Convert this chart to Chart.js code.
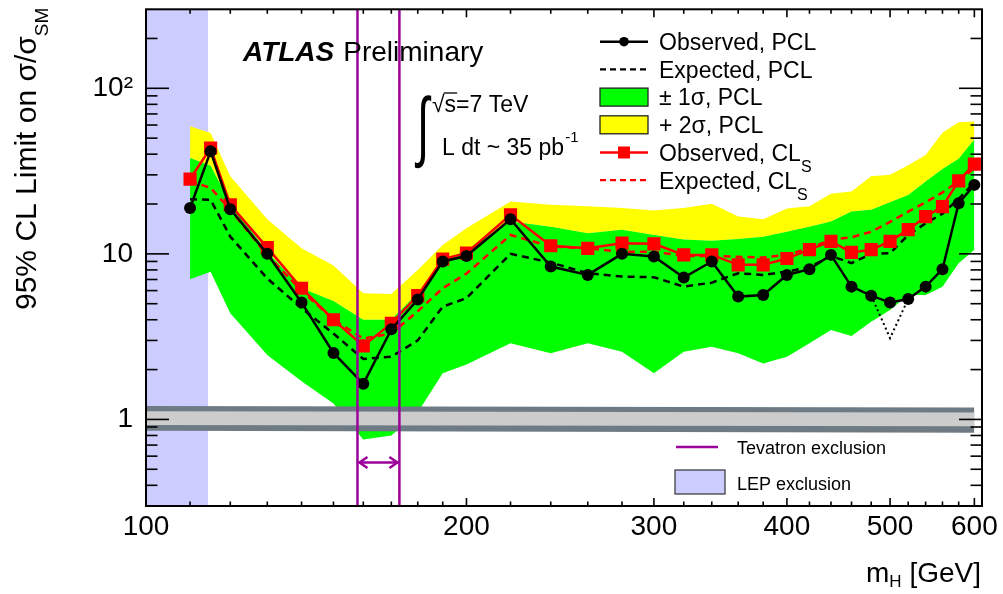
<!DOCTYPE html>
<html><head><meta charset="utf-8">
<script src="https://cdn.jsdelivr.net/npm/chart.js@4.4.0/dist/chart.umd.min.js"></script>
<style>html,body{margin:0;padding:0;background:#fff;}#wrap{width:1003px;height:594px;}</style>
</head><body><div id="wrap"><canvas id="c" width="1003" height="594"></canvas></div>
<script>
// ---------------- data ----------------
const masses = [110,115,120,130,140,150,160,170,180,190,200,220,240,260,280,300,320,340,360,380,400,420,440,460,480,500,520,540,560,580,600];
const obsPCL = [18.9,41.6,18.6,10.0,5.08,2.52,1.64,3.5,5.3,9.0,9.7,16.2,8.38,7.46,10.0,9.63,7.19,8.99,5.52,5.65,7.46,8.08,9.86,6.34,5.59,5.08,5.34,6.34,8.08,20.2,26.1];
const expPCL = [21.4,21.2,12.7,7.1,4.7,3.3,2.32,2.39,3.0,4.8,5.4,10.0,8.86,7.64,7.29,7.23,6.34,6.70,7.64,7.46,7.81,8.30,9.72,8.79,10.0,10.1,13.0,15.3,17.5,21.5,27.0];
const obsCLs = [28.3,43.6,19.8,10.9,6.2,4.0,2.78,3.8,5.6,9.3,10.1,17.2,11.2,10.8,11.6,11.5,9.86,9.86,8.58,8.58,9.37,10.6,11.9,10.2,10.6,11.9,14.0,16.8,19.3,27.6,34.8];
const expCLs = [27.5,25.0,18.5,9.8,6.0,4.0,3.08,3.3,4.5,6.2,7.6,13.0,11.1,10.8,10.3,10.3,9.72,9.72,9.6,9.5,9.86,10.8,12.2,12.6,13.6,15.6,18.0,20.5,23.5,27.4,33.0];
const plus1 = [37.9,34.0,20.3,10.3,6.2,5.2,4.0,4.0,5.8,9.0,10.6,15.7,14.6,13.3,14.0,13.0,12.2,12.0,12.3,12.7,13.6,14.6,15.7,18.0,18.5,20.5,22.7,27.4,32.5,37.5,49.0];
const minus1 = [7.03,7.81,4.38,2.45,1.7,1.25,0.757,0.80,1.1,1.9,2.15,2.88,2.51,2.88,2.56,1.90,2.56,2.75,2.51,2.18,2.39,2.88,3.47,3.19,3.89,4.58,5.65,5.65,6.34,8.79,10.6];
const plus2 = [59.0,53.7,29.4,16.2,10.8,8.5,5.78,5.73,8.0,11.3,14.3,20.7,19.8,19.4,18.9,18.3,18.9,20.1,16.8,16.2,18.8,19.4,23.1,23.8,29.4,30.1,34.3,39.5,53.8,62.3,63.1];
const dotMass = [480,500,520];
const dotVals = [5.59,3.1,5.34];
const thMass = [100,600];
const thOuterHi = [1.205,1.18];
const thOuterLo = [0.853,0.83];
const thInnerHi = [1.12,1.10];
const thInnerLo = [0.924,0.91];
const lepRange = [100,114.4];
const tevRange = [158,173];
const tevArrowY = 0.55;
const xRange = [100,610];
const yRange = [0.3,300];
const xMajorTicks = [100,200,300,400,500,600];
const xMinorTicks = [110,120,130,140,150,160,170,180,190,220,240,260,280,320,340,360,380,420,440,460,480,520,540,560,580];
const yMajorTicks = [1,10,100];
const yMinorTicks = [0.4,0.5,0.6,0.7,0.8,0.9,2,3,4,5,6,7,8,9,20,30,40,50,60,70,80,90,200];
const yTickText = {1:'1',10:'10',100:'10\u00B2'};
const legendLabels = ['Observed, PCL','Expected, PCL','\u00B1 1\u03C3, PCL','+ 2\u03C3, PCL','Observed, CL','Expected, CL'];

// ---------------- style ----------------
const FONT = "'Liberation Sans', Arial, Helvetica, sans-serif";
const GREEN = '#00ff00', YELLOW = '#ffff00', RED = '#ff0000', PURPLE = '#9b009b';
const LEP = '#ccccff', DGRAY = '#6e7b84', LGRAY = '#cccccc';
const NONE = 'rgba(0,0,0,0)';
const xy = (xs, ys) => xs.map((x, i) => ({x: x, y: ys[i]}));
const band = (data, fill, color, order) => ({data, fill, backgroundColor: color, borderColor: NONE, borderWidth: 0, pointRadius: 0, order});

const datasets = [
  band(xy(lepRange, [yRange[1], yRange[1]]), 'start', LEP, 30),       // 0
  band(xy(masses, plus2), 2, YELLOW, 29),                              // 1
  band(xy(masses, plus1), 3, GREEN, 28),                               // 2
  band(xy(masses, minus1), false, NONE, 27),                           // 3
  band(xy(thMass, thOuterHi), 5, DGRAY, 26),                           // 4
  band(xy(thMass, thOuterLo), false, NONE, 25),                        // 5
  band(xy(thMass, thInnerHi), 7, LGRAY, 24),                           // 6
  band(xy(thMass, thInnerLo), false, NONE, 23),                        // 7
  {data: xy(masses, expPCL), borderColor: '#000', borderWidth: 2.5, borderDash: [7,5], pointRadius: 0, fill: false, order: 12},
  {data: xy(masses, expCLs), borderColor: RED, borderWidth: 2.5, borderDash: [7,5], pointRadius: 0, fill: false, order: 11},
  {data: xy(dotMass, dotVals), borderColor: '#000', borderWidth: 2, borderDash: [2,3], pointRadius: 0, fill: false, order: 10},
  {data: xy(masses, obsCLs), borderColor: RED, borderWidth: 2.5, pointStyle: 'rect', pointRadius: 9.3, pointBackgroundColor: RED, pointBorderColor: RED, pointBorderWidth: 0, fill: false, order: 9},
  {data: xy(masses, obsPCL), borderColor: '#000', borderWidth: 2.5, pointStyle: 'circle', pointRadius: 6, pointBackgroundColor: '#000', pointBorderColor: '#000', pointBorderWidth: 0, fill: false, order: 8},
  {data: xy([tevRange[0], tevRange[0]], yRange), borderColor: PURPLE, borderWidth: 2.5, pointRadius: 0, fill: false, order: 5},
  {data: xy([tevRange[1], tevRange[1]], yRange), borderColor: PURPLE, borderWidth: 2.5, pointRadius: 0, fill: false, order: 5}
];

function textSub(ctx, main, sub, x, y, size, subSize, shift) {
  ctx.font = size + 'px ' + FONT;
  ctx.fillText(main, x, y);
  const w = ctx.measureText(main).width;
  ctx.font = subSize + 'px ' + FONT;
  ctx.fillText(sub, x + w, y + shift);
  return w + ctx.measureText(sub).width;
}

const rootPlugin = {
  id: 'rootStyle',
  afterDatasetsDraw(chart) {
    const {ctx, scales: {x, y}} = chart;
    // Tevatron arrow
    const x1 = x.getPixelForValue(tevRange[0]), x2 = x.getPixelForValue(tevRange[1]);
    const py = y.getPixelForValue(tevArrowY);
    ctx.save();
    ctx.strokeStyle = PURPLE; ctx.lineWidth = 2.5; ctx.lineJoin = 'miter';
    ctx.beginPath(); ctx.moveTo(x1 + 1, py); ctx.lineTo(x2 - 1, py); ctx.stroke();
    ctx.beginPath(); ctx.moveTo(x1 + 10, py - 5.5); ctx.lineTo(x1 + 2, py); ctx.lineTo(x1 + 10, py + 5.5); ctx.stroke();
    ctx.beginPath(); ctx.moveTo(x2 - 10, py - 5.5); ctx.lineTo(x2 - 2, py); ctx.lineTo(x2 - 10, py + 5.5); ctx.stroke();
    ctx.restore();
  },
  afterDraw(chart) {
    const {ctx, chartArea: a, scales: {x, y}} = chart;
    ctx.save();
    // frame
    ctx.strokeStyle = '#000'; ctx.lineWidth = 2;
    ctx.strokeRect(a.left, a.top, a.right - a.left, a.bottom - a.top);
    ctx.lineWidth = 1.6;
    const seg = (x1, y1, x2, y2) => { ctx.beginPath(); ctx.moveTo(x1, y1); ctx.lineTo(x2, y2); ctx.stroke(); };
    const xt = (v, len) => { const p = x.getPixelForValue(v); seg(p, a.bottom, p, a.bottom - len); seg(p, a.top, p, a.top + len); };
    const yt = (v, len) => { const p = y.getPixelForValue(v); seg(a.left, p, a.left + len, p); seg(a.right, p, a.right - len, p); };
    xMajorTicks.forEach(v => xt(v, 8));
    xMinorTicks.forEach(v => xt(v, 4.5));
    yMajorTicks.forEach(v => yt(v, 23));
    yMinorTicks.forEach(v => yt(v, 11.5));

    ctx.fillStyle = '#000'; ctx.textBaseline = 'alphabetic'; ctx.textAlign = 'left';
    // ATLAS Preliminary
    ctx.font = 'italic bold 28px ' + FONT;
    ctx.fillText('ATLAS', 243, 61);
    const wA = ctx.measureText('ATLAS').width;
    ctx.font = '28px ' + FONT;
    ctx.fillText('Preliminary', 243 + wA + 9, 61);

    // sqrt(s) and luminosity
    ctx.font = '23px ' + FONT;
    ctx.fillText('\u221As=7 TeV', 432, 112);
    const wr = ctx.measureText('\u221A').width, ws = ctx.measureText('s').width;
    ctx.lineWidth = 1.3;
    seg(432 + wr - 1, 93, 432 + wr + ws + 1, 93);
    ctx.save();
    ctx.translate(417, 152);
    ctx.scale(1, 1.75);
    ctx.font = '44px ' + FONT;
    ctx.fillText('\u222B', 0, 0);
    ctx.restore();
    ctx.font = '23px ' + FONT;
    ctx.fillText('L dt ~ 35 pb', 442, 155);
    const wl = ctx.measureText('L dt ~ 35 pb').width;
    ctx.font = '15px ' + FONT;
    ctx.fillText('-1', 442 + wl + 1, 142);

    // legend (top right)
    const lx0 = 600, lx1 = 648, tx = 659;
    legendLabels.forEach((lab, i) => {
      const ry = 41.7 + 27.7 * i;
      ctx.save();
      if (i === 0 || i === 4) {
        const c = i === 0 ? '#000' : RED;
        ctx.strokeStyle = c; ctx.fillStyle = c; ctx.lineWidth = 2.5;
        seg(lx0, ry, lx1, ry);
        if (i === 0) { ctx.beginPath(); ctx.arc(624, ry, 4.8, 0, Math.PI * 2); ctx.fill(); }
        else ctx.fillRect(618, ry - 6, 12, 12);
      } else if (i === 1 || i === 5) {
        ctx.strokeStyle = i === 1 ? '#000' : RED; ctx.lineWidth = 2.2; ctx.setLineDash([6,4]);
        seg(lx0, ry, lx1, ry);
      } else {
        ctx.fillStyle = i === 2 ? GREEN : YELLOW;
        ctx.fillRect(lx0, ry - 9, lx1 - lx0, 18);
        ctx.strokeStyle = '#222'; ctx.lineWidth = 1.3;
        ctx.strokeRect(lx0, ry - 9, lx1 - lx0, 18);
      }
      ctx.restore();
      ctx.fillStyle = '#000';
      if (i >= 4) textSub(ctx, lab, 'S', tx, ry + 8.3, 23, 16, 11);
      else { ctx.font = '23px ' + FONT; ctx.fillText(lab, tx, ry + 8.3); }
    });

    // lower legend
    ctx.strokeStyle = PURPLE; ctx.lineWidth = 2.5;
    seg(676, 447, 718, 447);
    ctx.fillStyle = LEP; ctx.fillRect(675, 470, 50, 24);
    ctx.strokeStyle = '#333'; ctx.lineWidth = 1.2; ctx.strokeRect(675, 470, 50, 24);
    ctx.fillStyle = '#000'; ctx.font = '18px ' + FONT;
    ctx.fillText('Tevatron exclusion', 737, 453.5);
    ctx.fillText('LEP exclusion', 737, 489.5);

    // axis titles
    ctx.font = '28px ' + FONT;
    const wm = ctx.measureText('m').width;
    ctx.font = '17px ' + FONT; const wH = ctx.measureText('H').width;
    ctx.font = '28px ' + FONT; const wg = ctx.measureText(' [GeV]').width;
    let sx = 981 - (wm + wH + wg);
    ctx.fillText('m', sx, 582);
    ctx.font = '17px ' + FONT; ctx.fillText('H', sx + wm, 587);
    ctx.font = '28px ' + FONT; ctx.fillText(' [GeV]', sx + wm + wH, 582);

    ctx.save();
    ctx.translate(36, 310);
    ctx.rotate(-Math.PI / 2);
    textSub(ctx, '95% CL Limit on \u03C3/\u03C3', 'SM', 0, 0, 30, 19, 12);
    ctx.restore();
    ctx.restore();
  }
};

const chart = new Chart(document.getElementById('c'), {
  type: 'line',
  data: {datasets},
  plugins: [rootPlugin],
  options: {
    responsive: false, animation: false, devicePixelRatio: 1,
    parsing: true, spanGaps: true,
    layout: {padding: {top: 9, right: 21, left: 0, bottom: 0}},
    elements: {line: {tension: 0}},
    plugins: {legend: {display: false}, tooltip: {enabled: false}, title: {display: false}},
    scales: {
      x: {
        type: 'logarithmic', min: xRange[0], max: xRange[1],
        grid: {display: false, drawTicks: false}, border: {display: false},
        afterBuildTicks: s => { s.ticks = xMajorTicks.map(v => ({value: v})); },
        afterFit: s => { s.height = 88; s.paddingLeft = 0; s.paddingRight = 0; },
        ticks: {autoSkip: false, maxRotation: 0, padding: 4, color: '#000', font: {family: FONT, size: 28},
                callback: v => String(v)}
      },
      y: {
        type: 'logarithmic', min: yRange[0], max: yRange[1],
        grid: {display: false, drawTicks: false}, border: {display: false},
        afterBuildTicks: s => { s.ticks = yMajorTicks.map(v => ({value: v})); },
        afterFit: s => { s.width = 146; s.paddingTop = 0; s.paddingBottom = 0; },
        ticks: {autoSkip: false, padding: 13, color: '#000', font: {family: FONT, size: 28},
                callback: v => yTickText[v] || ''}
      }
    }
  }
});
// keep the plot frame where the reference has it
const ca = chart.chartArea;
if (Math.abs(ca.right - 982) > 0.5 || Math.abs(ca.top - 9) > 0.5) {
  chart.options.layout.padding.right = Math.max(0, 21 + (ca.right - 982));
  chart.options.layout.padding.top = Math.max(0, 9 - (ca.top - 9));
  chart.update();
}
</script></body></html>
